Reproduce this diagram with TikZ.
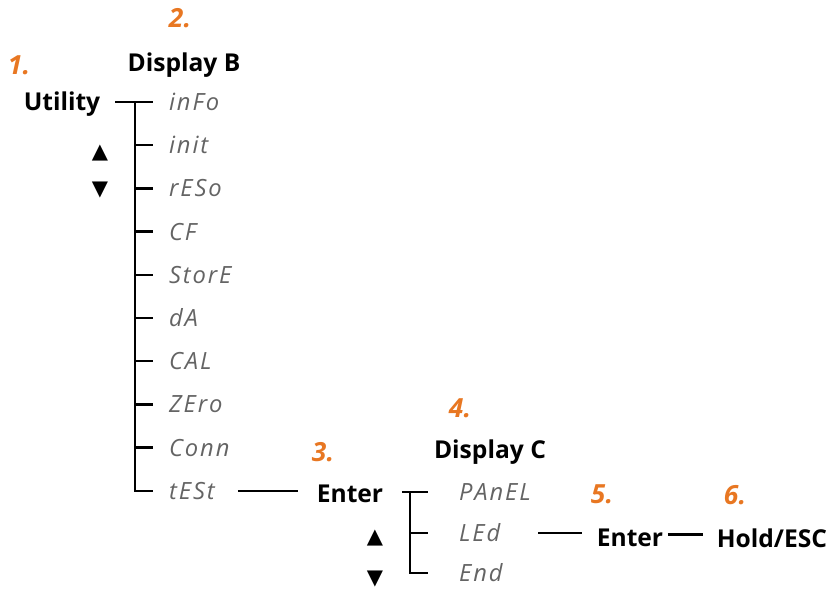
\documentclass[tikz,border=0pt]{standalone}
\usepackage{fontspec}
\setmainfont{Open Sans}
\newfontfamily\segfont[LetterSpace=8]{Open Sans}
\newfontfamily\symfont{DejaVu Sans}
\usetikzlibrary{positioning}
\definecolor{steporange}{RGB}{232,119,34}
\definecolor{seggray}{RGB}{100,100,100}

\begin{document}
\begin{tikzpicture}[x=0.02cm, y=-0.02cm, line width=1.3pt,
        num/.style = {font=\fontsize{15}{15}\selectfont\bfseries\itshape, text=steporange},
        head/.style = {inner xsep=8pt, font=\fontsize{14}{14}\selectfont\bfseries},
        seg/.style = {anchor=west, inner xsep=0.3cm, inner ysep=1pt, font=\segfont\fontsize{13.5}{13.5}\selectfont\itshape, text=seggray},
        updown/.style = {font=\symfont\fontsize{12}{12}\selectfont}]

        \useasboundingbox (0,0) rectangle (836,589);

        % Display B
        \node[num] (n1) at (19, 65) {1.};
        \node[num] (n2) at (180, 18) {2.};
        \node[head] (dispb) at (184, 65) {Display B};
        \node[head] (util) at (62, 104) {Utility};
        \node[updown] (upb) at (100, 153) {▲};
        \node[updown] (downb) at (100, 190) {▼};

        \foreach \name/\txt [count=\i from 0] in {info/inFo, init/init, reso/rESo, cf/CF, store/StorE, da/dA, cal/CAL, zero/ZEro, conn/Conn, test/tESt}
            \node[seg] (\name) at (153, 102+43.2*\i) {\txt};

        \coordinate (tb) at (135, 102);
        \draw (info.west -| util.east) -- (info.west);
        \draw (info.west -| tb) |- (test.west);
        \foreach \name in {init, reso, cf, store, da, cal, zero, conn}
            \draw (\name.west -| tb) -- (\name.west);

        % Enter -> Display C
        \node[num] (n3) at (323, 452) {3.};
        \node[head] (enter1) at (350, 494) {Enter};
        \draw[shorten <=4pt, shorten >=2pt] (test.east) -- (test.east -| enter1.west);

        \node[num] (n4) at (460, 408) {4.};
        \node[head] (dispc) at (490, 452) {Display C};
        \node[updown] (upc) at (375, 538) {▲};
        \node[updown] (downc) at (375, 579) {▼};

        \node[seg, inner xsep=0.6cm] (panel) at (428, 492) {PAnEL};
        \node[seg, inner xsep=0.6cm] (led) at (428, 533) {LEd};
        \node[seg, inner xsep=0.6cm] (end) at (428, 573) {End};

        \coordinate (tc) at (410, 492);
        \draw[shorten <=2pt] (panel.west -| enter1.east) -- (panel.west);
        \draw (panel.west -| tc) |- (end.west);
        \draw (led.west -| tc) -- (led.west);

        % Enter -> Hold/ESC
        \node[num] (n5) at (602, 494) {5.};
        \node[num] (n6) at (735, 495) {6.};
        \node[head] (enter2) at (630, 538) {Enter};
        \node[head] (hold) at (772, 538) {Hold/ESC};
        \draw[shorten <=4pt] (led.east) -- (led.east -| enter2.west);
        \draw[shorten <=-6pt, shorten >=-1pt] ([yshift=2pt]enter2.east) -- ([yshift=2pt]hold.west);
    \end{tikzpicture}
\end{document}
